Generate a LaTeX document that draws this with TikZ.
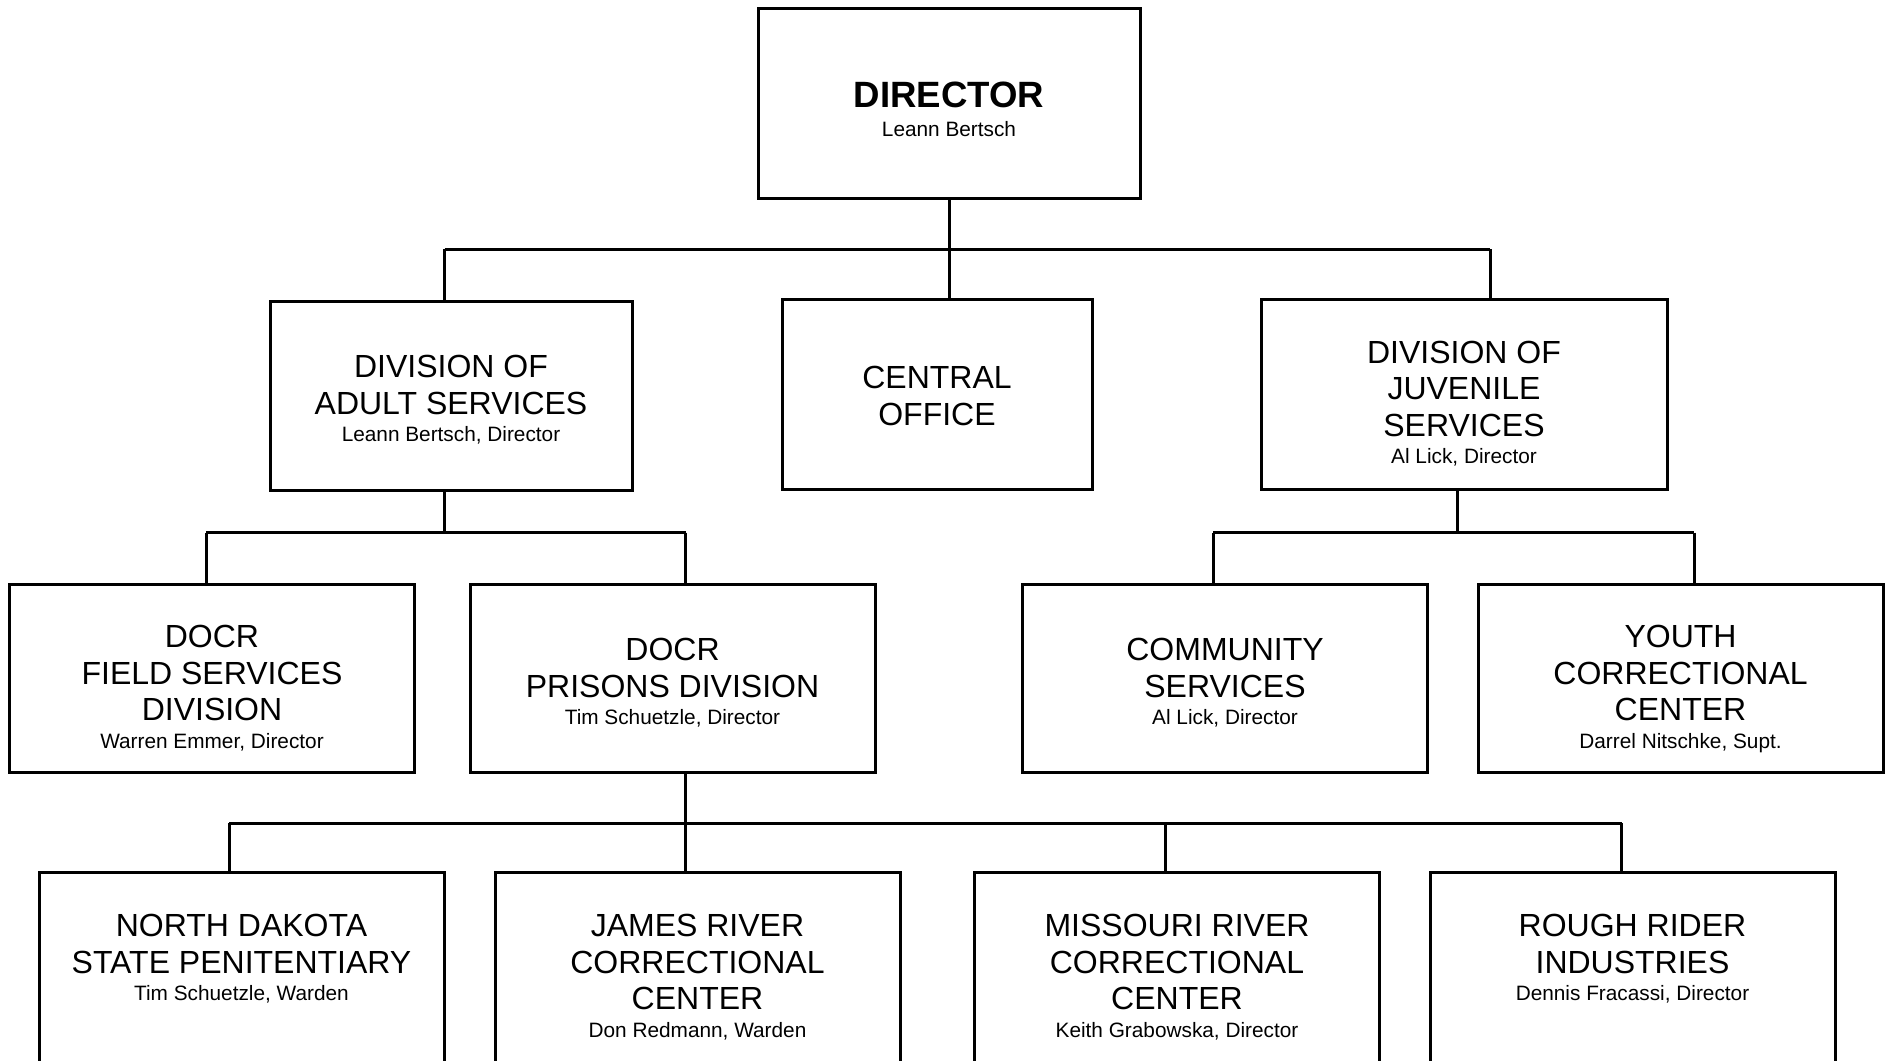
\documentclass[tikz,border=0pt]{standalone}
\usepackage{fontspec}
\setmainfont{Liberation Sans}
\newcommand\mainf{\fontsize{16}{18.2}\selectfont}
\newcommand\subf{\fontsize{10.4}{12}\selectfont}
\newcommand\headf{\fontsize{18.3}{14.4}\selectfont}
\begin{document}
\begin{tikzpicture}[x=0.5pt,y=-0.5pt,
  box/.style={draw, line width=1.5pt, inner sep=0pt},
  lvl/.style={box, minimum width=202.5pt, minimum height=94pt},
  btm/.style={box, minimum width=202.5pt, minimum height=124pt},
  lbl/.style={inner sep=0pt, align=center, font=\mainf, anchor=north},
  ln/.style={line width=1.5pt}]
\useasboundingbox (0,0) rectangle (1889,1060);
\clip (0,0) rectangle (1889,1060);

% ---------- boxes ----------
\node[box, minimum width=191pt, minimum height=95pt] (dir) at (949,103) {};
\node[box, minimum width=181pt, minimum height=94.5pt] (adult) at (451,395.5) {};
\node[box, minimum width=155pt, minimum height=95pt] (central) at (937,394) {};
\node[box, minimum width=203pt, minimum height=95pt] (juv) at (1464,394) {};
\node[lvl] (field) at (212,678) {};
\node[lvl] (prisons) at (672.5,678) {};
\node[lvl] (comm) at (1225,678) {};
\node[lvl] (youth) at (1680.5,678) {};
\node[btm] (ndsp) at (241.5,996) {};
\node[btm] (jrcc) at (697.5,996) {};
\node[btm] (mrcc) at (1177,996) {};
\node[btm] (rri)  at (1632.5,996) {};

% ---------- texts ----------
\node[lbl, font=\headf] (tdir) at (949,82)
  {{\bfseries DIRECTOR}\\{\subf Leann Bertsch}};
\node[lbl] (tadult) at (451,355)
  {DIVISION OF\\ADULT SERVICES\\[-4.4pt]{\subf Leann Bertsch, Director}};
\node[lbl] (tcentral) at (937,366)
  {CENTRAL\\OFFICE};
\node[lbl] (tjuv) at (1464,340.5)
  {DIVISION OF\\JUVENILE\\SERVICES\\[-4.4pt]{\subf Al Lick, Director}};
\node[lbl] (tfield) at (212,625)
  {DOCR\\FIELD SERVICES\\DIVISION\\[-4.4pt]{\subf Warren Emmer, Director}};
\node[lbl] (tprisons) at (672.5,638)
  {DOCR\\PRISONS DIVISION\\[-4.4pt]{\subf Tim Schuetzle, Director}};
\node[lbl] (tcomm) at (1225,638)
  {COMMUNITY\\SERVICES\\[-4.4pt]{\subf Al Lick, Director}};
\node[lbl] (tyouth) at (1680.5,625)
  {YOUTH\\CORRECTIONAL\\CENTER\\[-4.4pt]{\subf Darrel Nitschke, Supt.}};
\node[lbl] (tndsp) at (241.5,914)
  {NORTH DAKOTA\\STATE PENITENTIARY\\[-4.4pt]{\subf Tim Schuetzle, Warden}};
\node[lbl] (tjrcc) at (697.5,914)
  {JAMES RIVER\\CORRECTIONAL\\CENTER\\[-4.4pt]{\subf Don Redmann, Warden}};
\node[lbl] (tmrcc) at (1177,914)
  {MISSOURI RIVER\\CORRECTIONAL\\CENTER\\[-4.4pt]{\subf Keith Grabowska, Director}};
\node[lbl] (trri) at (1632.5,914)
  {ROUGH RIDER\\INDUSTRIES\\[-4.4pt]{\subf Dennis Fracassi, Director}};

% ---------- connectors: director ----------
\coordinate (b1L) at (444.5,249);
\coordinate (b1R) at (1490,249);
\draw[ln] (b1L) -- (b1R);
\draw[ln] (dir.south) -- (dir.south |- central.north);
\draw[ln] (b1L) -- (b1L |- adult.north);
\draw[ln] (b1R) -- (b1R |- juv.north);

% adult services
\coordinate (b2L) at (206,532.5);
\coordinate (b2R) at (685.5,532.5);
\coordinate (b2S) at (444.5,532.5);
\draw[ln] (b2S |- adult.south) -- (b2S);
\draw[ln] (b2L) -- (b2R);
\draw[ln] (b2L) -- (b2L |- field.north);
\draw[ln] (b2R) -- (b2R |- prisons.north);

% juvenile services
\coordinate (b3L) at (1213,532.5);
\coordinate (b3R) at (1694,532.5);
\coordinate (b3S) at (1457.5,532.5);
\draw[ln] (b3S |- juv.south) -- (b3S);
\draw[ln] (b3L) -- (b3R);
\draw[ln] (b3L) -- (b3L |- comm.north);
\draw[ln] (b3R) -- (b3R |- youth.north);

% prisons division
\coordinate (b4S) at (685.5,823);
\coordinate (b4a) at (229,823);
\coordinate (b4c) at (1165,823);
\coordinate (b4d) at (1621.5,823);
\draw[ln] (b4S |- prisons.south) -- (b4S);
\draw[ln] (b4a) -- (b4d);
\draw[ln] (b4a) -- (b4a |- ndsp.north);
\draw[ln] (b4S) -- (b4S |- jrcc.north);
\draw[ln] (b4c) -- (b4c |- mrcc.north);
\draw[ln] (b4d) -- (b4d |- rri.north);
\end{tikzpicture}
\end{document}
